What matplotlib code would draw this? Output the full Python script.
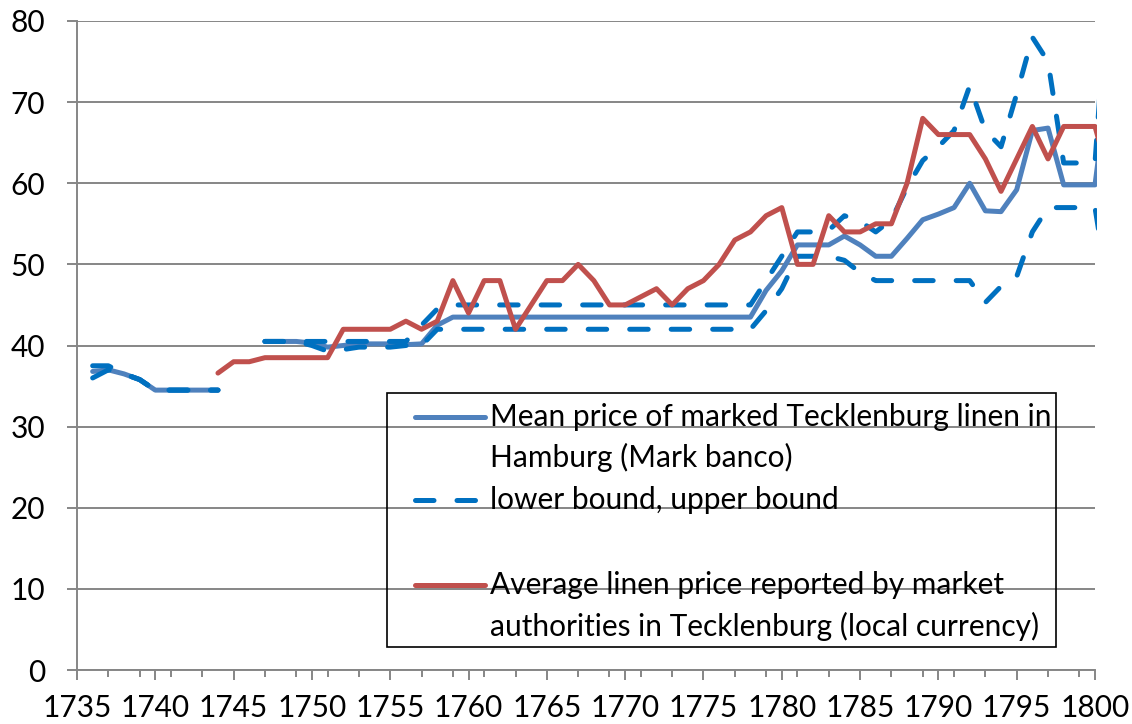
import numpy as np
import matplotlib.pyplot as plt
from matplotlib.lines import Line2D
from matplotlib.patches import Rectangle
from matplotlib.ticker import FixedLocator
from matplotlib.transforms import Bbox, TransformedBbox

plt.rcParams['font.family'] = ['Lato', 'DejaVu Sans']

nan = np.nan
years = np.arange(1736, 1802)

# mean price of marked Tecklenburg linen in Hamburg (Mark banco)
mean_hh = [36.8, 37.0, 36.5, 35.8, 34.5, 34.5, 34.5, 34.5, 34.5, nan,
           nan, 40.5, 40.5, 40.5, 40.3, 39.8, 40.0, 40.2, 40.2, 40.2,
           40.1, 40.2, 42.5, 43.5, 43.5, 43.5, 43.5, 43.5, 43.5, 43.5,
           43.5, 43.5, 43.5, 43.5, 43.5, 43.5, 43.5, 43.5, 43.5, 43.5,
           43.5, 43.5, 43.5, 46.8, 49.2, 52.4, 52.4, 52.4, 53.5, 52.4,
           51.0, 51.0, 53.2, 55.5, 56.2, 57.0, 60.0, 56.6, 56.5, 59.2,
           66.5, 66.8, 59.8, 59.8, 59.8, 75.0]
lower = [36.0, 37.0, 36.5, 35.8, 34.5, 34.5, 34.5, 34.5, 34.5, nan,
         nan, 40.5, 40.5, 40.5, 40.0, 39.3, 39.5, 39.8, 39.8, 39.8,
         40.0, 40.0, 42.0, 42.0, 42.0, 42.0, 42.0, 42.0, 42.0, 42.0,
         42.0, 42.0, 42.0, 42.0, 42.0, 42.0, 42.0, 42.0, 42.0, 42.0,
         42.0, 42.0, 42.0, 44.3, 47.0, 51.0, 51.0, 51.0, 50.5, 49.0,
         48.0, 48.0, 48.0, 48.0, 48.0, 48.0, 48.0, 45.3, 47.3, 48.5,
         54.0, 57.0, 57.0, 57.0, 57.0, 45.0]
upper = [37.5, 37.5, 36.5, 35.8, 34.5, 34.5, 34.5, 34.5, 34.5, nan,
         nan, 40.5, 40.5, 40.5, 40.5, 40.5, 40.5, 40.5, 40.5, 40.5,
         40.5, 42.5, 44.5, 45.0, 45.0, 45.0, 45.0, 45.0, 45.0, 45.0,
         45.0, 45.0, 45.0, 45.0, 45.0, 45.0, 45.0, 45.0, 45.0, 45.0,
         45.0, 45.0, 45.0, 48.0, 51.0, 54.0, 54.0, 54.2, 56.0, 55.3,
         54.0, 55.5, 59.5, 62.8, 64.5, 66.5, 72.0, 66.5, 64.5, 71.0,
         78.0, 75.0, 62.5, 62.5, 62.5, 90.0]
# average linen price reported by market authorities (local currency)
local = [nan, nan, nan, nan, nan, nan, nan, nan, 36.6, 38.0,
         38.0, 38.5, 38.5, 38.5, 38.5, 38.5, 42.0, 42.0, 42.0, 42.0,
         43.0, 42.0, 43.0, 48.0, 44.0, 48.0, 48.0, 42.0, 45.0, 48.0,
         48.0, 50.0, 48.0, 45.0, 45.0, 46.0, 47.0, 45.0, 47.0, 48.0,
         50.0, 53.0, 54.0, 56.0, 57.0, 50.0, 50.0, 56.0, 54.0, 54.0,
         55.0, 55.0, 60.0, 68.0, 66.0, 66.0, 66.0, 63.0, 59.0, 63.0,
         67.0, 63.0, 67.0, 67.0, 67.0, 60.0]

label_mean = ["Mean price of marked Tecklenburg linen in", "Hamburg (Mark banco)"]
label_bounds = ["lower bound, upper bound"]
label_local = ["Average linen price reported by market",
               "authorities in Tecklenburg (local currency)"]

c_mean = '#4F81BD'
c_bound = '#0070C0'
c_local = '#C0504D'
c_grid = '#868686'
W, H = 1132, 724
fs = 21.5

fig = plt.figure(figsize=(W / 100, H / 100), dpi=100, facecolor='w')
ax = fig.add_axes([77 / W, 1 - 670 / H, (1095 - 77) / W, (670 - 21) / H])

lw = 3.6
dash = (3.7, 4.6)
lines = []
lines += ax.plot(years, mean_hh, color=c_mean, lw=lw, solid_joinstyle='round', solid_capstyle='round')
lines += ax.plot(years, lower, color=c_bound, lw=lw, dashes=dash, dash_capstyle='round')
lines += ax.plot(years, upper, color=c_bound, lw=lw, dashes=dash, dash_capstyle='round')
lines += ax.plot(years, local, color=c_local, lw=lw, solid_joinstyle='round', solid_capstyle='round')

ax.set_xlim(1735, 1800)
ax.set_ylim(0, 80)

# lines run a touch past the last year, as in the original
clip = TransformedBbox(Bbox([[1734, -5], [1800.15, 90]]), ax.transData)
for ln in lines:
    ln.set_clip_path(None)
    ln.set_clip_box(clip)

ax.set_xticks(range(1735, 1801, 5))
ax.xaxis.set_minor_locator(FixedLocator(range(1735, 1801, 2)))
ax.set_yticks(range(0, 81, 10))
ax.yaxis.grid(True, color=c_grid, lw=1.4)
ax.set_axisbelow(True)
for s in ['top', 'right']:
    ax.spines[s].set_visible(False)
for s in ['left', 'bottom']:
    ax.spines[s].set_color(c_grid)
    ax.spines[s].set_linewidth(1.4)
ax.tick_params(axis='x', which='major', length=7, width=1.4, color=c_grid, labelsize=fs, pad=10)
ax.tick_params(axis='x', which='minor', length=5, width=1.4, color=c_grid)
ax.tick_params(axis='y', which='major', length=7, width=1.4, color=c_grid, labelsize=fs, pad=16)

# legend drawn by hand so the handle sits on the first text line
def fx(px):
    return px / W


def fy(py):
    return 1 - py / H


fig.patches.append(Rectangle((fx(387), fy(647)), fx(1056) - fx(387), fy(393) - fy(647),
                             transform=fig.transFigure, fill=False, ec='black', lw=1.2))
fig.lines.append(Line2D([fx(415), fx(485)], [fy(417), fy(417)], transform=fig.transFigure,
                        color=c_mean, lw=lw, solid_capstyle='round'))
fig.lines.append(Line2D([fx(415), fx(485)], [fy(500), fy(500)], transform=fig.transFigure,
                        color=c_bound, lw=lw, dashes=dash, dash_capstyle='round'))
fig.lines.append(Line2D([fx(415), fx(485)], [fy(585), fy(585)], transform=fig.transFigure,
                        color=c_local, lw=lw, solid_capstyle='round'))
for txt, py in zip(label_mean + label_bounds + label_local, [417, 457, 500, 585, 626]):
    fig.text(fx(490), fy(py), txt, fontsize=fs, va='center', ha='left')

fig.savefig('out.png', dpi=100)
